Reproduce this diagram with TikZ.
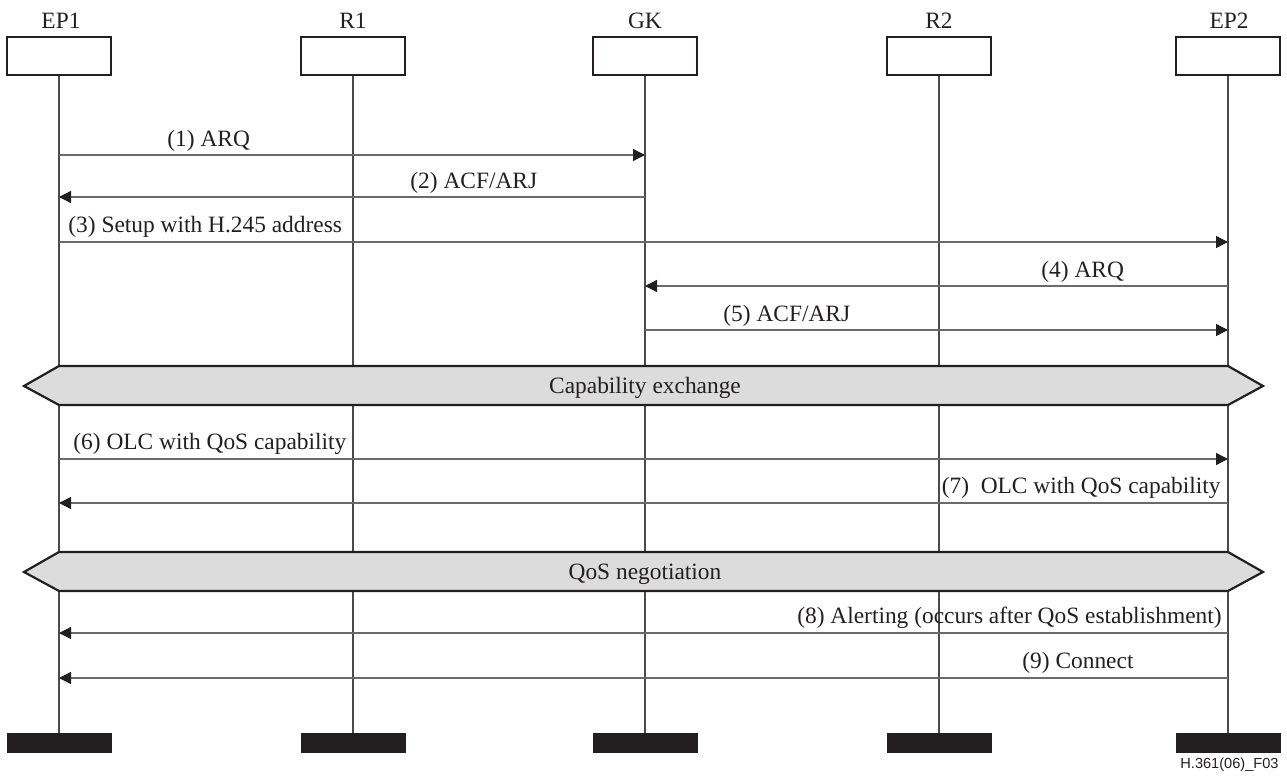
\documentclass[tikz,border=0pt]{standalone}
\usepackage{fontspec}
\setmainfont{Liberation Serif}
\newfontfamily\labelsans{Liberation Sans}
\usetikzlibrary{arrows.meta}
\definecolor{ink}{HTML}{231F20}
\definecolor{lifegray}{HTML}{4A4A4A}
\definecolor{msggray}{HTML}{6A6A6A}
\definecolor{bandgray}{HTML}{DCDCDC}
\begin{document}
\begin{tikzpicture}[x=0.5pt,y=-0.5pt,
  hbox/.style={draw=ink, line width=1.1pt, minimum width=52pt, minimum height=19pt, inner sep=0pt},
  hbar/.style={fill=ink, minimum width=52.5pt, minimum height=10pt, inner sep=0pt},
  life/.style={draw=lifegray, line width=0.65pt},
  msg/.style={draw=msggray, line width=0.65pt, -{Triangle[length=6pt,width=6pt,color=ink]}},
  lbl/.style={font=\fontsize{11.7}{14}\selectfont, text=ink, inner sep=0pt},
  band/.style={draw=ink, line width=1.1pt, fill=bandgray, line join=miter},
]
\useasboundingbox (0,0) rectangle (1287,776);

% header boxes
\node[hbox] (ep1) at (59,56) {};
\node[hbox] (r1)  at (353,56) {};
\node[hbox] (gk)  at (645,56) {};
\node[hbox] (r2)  at (939,56) {};
\node[hbox] (ep2) at (1228,56) {};

% header labels
\node[lbl, anchor=base] (ep1t) at (61,28) {EP1};
\node[lbl, anchor=base] (r1t)  at (353,28) {R1};
\node[lbl, anchor=base] (gkt)  at (645,28) {GK};
\node[lbl, anchor=base] (r2t)  at (939,28) {R2};
\node[lbl, anchor=base] (ep2t) at (1229,28) {EP2};

% bottom bars
\node[hbar] (ep1b) at (59,743) {};
\node[hbar] (r1b)  at (353,743) {};
\node[hbar] (gkb)  at (645,743) {};
\node[hbar] (r2b)  at (939,743) {};
\node[hbar] (ep2b) at (1228,743) {};

% lifelines
\foreach \n in {ep1,r1,gk,r2,ep2}
  \draw[life] (\n.south) -- (\n b.north);

% message rows
\coordinate (m1) at (0,155);
\coordinate (m2) at (0,197);
\coordinate (m3) at (0,242);
\coordinate (m4) at (0,286);
\coordinate (m5) at (0,330);
\coordinate (m6) at (0,459);
\coordinate (m7) at (0,503);
\coordinate (m8) at (0,633);
\coordinate (m9) at (0,678);

\draw[msg] (ep1 |- m1) -- (gk |- m1);
\draw[msg] (gk |- m2) -- (ep1 |- m2);
\draw[msg] (ep1 |- m3) -- (ep2 |- m3);
\draw[msg] (ep2 |- m4) -- (gk |- m4);
\draw[msg] (gk |- m5) -- (ep2 |- m5);
\draw[msg] (ep1 |- m6) -- (ep2 |- m6);
\draw[msg] (ep2 |- m7) -- (ep1 |- m7);
\draw[msg] (ep2 |- m8) -- (ep1 |- m8);
\draw[msg] (ep2 |- m9) -- (ep1 |- m9);

% message labels
\node[lbl, anchor=base west] (l1) at (167,146) {(1) ARQ};
\node[lbl, anchor=base west] (l2) at (410,188) {(2) ACF/ARJ};
\node[lbl, anchor=base west] (l3) at (68,232) {(3) Setup with H.245 address};
\node[lbl, anchor=base west] (l4) at (1041,277) {(4) ARQ};
\node[lbl, anchor=base west] (l5) at (723,321) {(5) ACF/ARJ};
\node[lbl, anchor=base west] (l6) at (73,449) {(6) OLC with QoS capability};
\node[lbl, anchor=base east] (l7) at (1221,493) {(7)\ \ OLC with QoS capability};
\node[lbl, anchor=base east] (l8) at (1222,623) {(8) Alerting (occurs after QoS establishment)};
\node[lbl, anchor=base west] (l9) at (1022,668) {(9) Connect};

% bands
\coordinate (b1t) at (0,366);
\coordinate (b1m) at (0,386);
\coordinate (b1b) at (0,405);
\draw[band] (ep1 |- b1t) -- (ep2 |- b1t) -- ([xshift=17.5pt]ep2 |- b1m) -- (ep2 |- b1b)
  -- (ep1 |- b1b) -- ([xshift=-17.5pt]ep1 |- b1m) -- cycle;
\node[lbl, anchor=base] (cap) at (645,393) {Capability exchange};

\coordinate (b2t) at (0,552);
\coordinate (b2m) at (0,572);
\coordinate (b2b) at (0,591);
\draw[band] (ep1 |- b2t) -- (ep2 |- b2t) -- ([xshift=17.5pt]ep2 |- b2m) -- (ep2 |- b2b)
  -- (ep1 |- b2b) -- ([xshift=-17.5pt]ep1 |- b2m) -- cycle;
\node[lbl, anchor=base] (qos) at (645,579) {QoS negotiation};

% figure id
\node[font=\labelsans\fontsize{7.3}{9}\selectfont, text=ink, inner sep=0pt, anchor=base east] (fid) at (1279,768) {H.361(06)\_F03};
\end{tikzpicture}
\end{document}
